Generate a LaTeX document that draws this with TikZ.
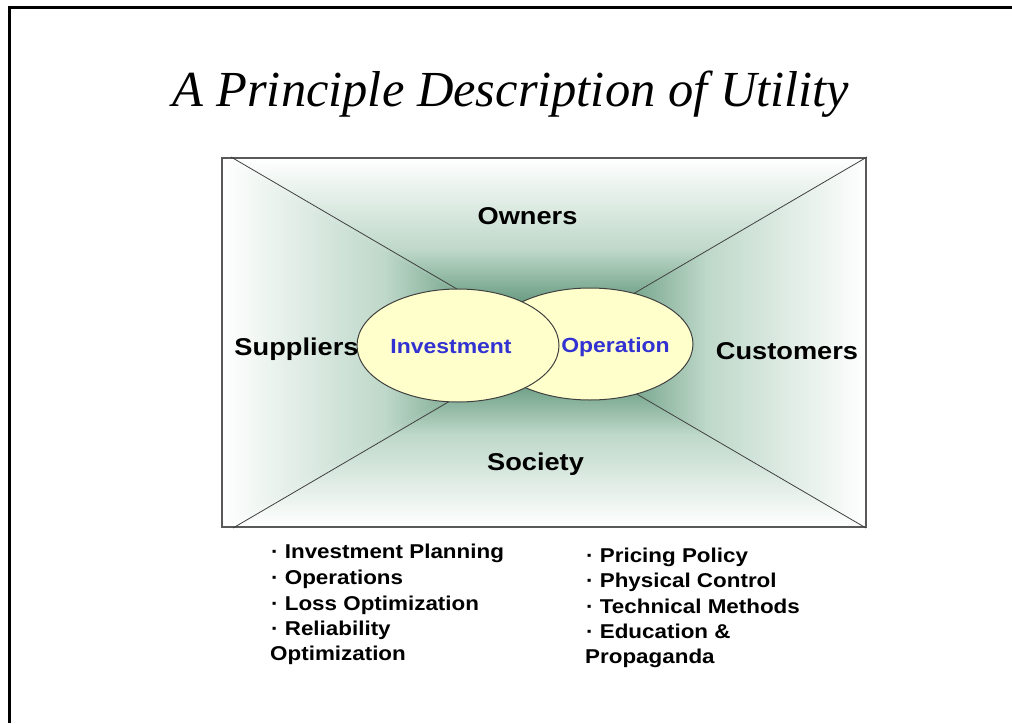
\documentclass[tikz,border=0pt]{standalone}
\usepackage{fontspec}
\setmainfont{Liberation Serif}
\newfontfamily\titlefont{Liberation Serif}
\newfontfamily\labelfont{Liberation Sans}[FakeStretch=1.12]
\usetikzlibrary{shapes.geometric}
\definecolor{deepgreen}{RGB}{40,110,75}
\definecolor{midgreen}{RGB}{190,216,201}
\definecolor{paleyellow}{RGB}{255,255,204}
\definecolor{taskblue}{RGB}{50,50,210}

\begin{document}
\begin{tikzpicture}[x=1pt,y=-1pt,
  party/.style={font=\labelfont\bfseries\fontsize{24.3}{28}\selectfont, anchor=base},
  task/.style={font=\labelfont\bfseries\fontsize{20.5}{24}\selectfont, text=taskblue, anchor=base},
  item/.style={font=\labelfont\bfseries\fontsize{20}{24}\selectfont, anchor=base west, inner sep=0pt},
  bubble/.style={ellipse, draw=black!75, line width=1pt, fill=paleyellow, inner sep=0pt},
  boxline/.style={draw=black!65, line width=1.4pt},
  diagline/.style={draw=black!75, line width=0.8pt}]
\useasboundingbox (0,0) rectangle (1012,723);
% slide frame (top and left only)
\draw[line width=3pt] (9,723) -- (9,7) -- (1012,7);
\node[anchor=base] (title) at (511,106) {\titlefont\itshape\fontsize{50.5}{60}\selectfont A Principle Description of Utility};
% box corners
\coordinate (tl) at (222,158);
\coordinate (tr) at (866,158);
\coordinate (br) at (866,527);
\coordinate (bl) at (222,527);
\coordinate (mid) at (548,342);
\coordinate (d1) at (231,157);
\coordinate (d2) at (867,157);
\coordinate (d3) at (866,528);
\coordinate (d4) at (233,528);
% green quarters
\shade[top color=white, bottom color=deepgreen, middle color=midgreen] (tl) -- (tr) -- (mid) -- cycle;
\shade[top color=deepgreen, bottom color=white, middle color=midgreen] (bl) -- (br) -- (mid) -- cycle;
\shade[left color=white, right color=deepgreen, middle color=midgreen] (tl) -- (bl) -- (mid) -- cycle;
\shade[left color=deepgreen, right color=white, middle color=midgreen] (tr) -- (br) -- (mid) -- cycle;
\path[boxline] (tl) rectangle (br);
\path[diagline] (d1) -- (d3);
\path[diagline] (d2) -- (d4);
% the two bubbles
\node[bubble, minimum width=206pt, minimum height=112pt] (oper) at (590,344) {};
\node[bubble, minimum width=202pt, minimum height=113pt] (inv) at (458,345.5) {};
\node[task] (invtext) at (451,353) {Investment};
\node[task] (opertext) at (615.5,352) {Operation};
\node[party] (owners) at (527.5,224) {Owners};
\node[party] (suppliers) at (296.5,355) {Suppliers};
\node[party] (customers) at (787,359) {Customers};
\node[party] (society) at (535.5,470) {Society};
% lists
\node[item] (inv1) at (271,558) {· Investment Planning};
\node[item] (inv2) at (271,584) {· Operations};
\node[item] (inv3) at (271,610) {· Loss Optimization};
\node[item] (inv4) at (271,635) {· Reliability};
\node[item] (inv5) at (270,660) {Optimization};
\node[item] (op1) at (586,562) {· Pricing Policy};
\node[item] (op2) at (586,587) {· Physical Control};
\node[item] (op3) at (586,613) {· Technical Methods};
\node[item] (op4) at (586,638) {· Education \&};
\node[item] (op5) at (585,663) {Propaganda};
\end{tikzpicture}
\end{document}
